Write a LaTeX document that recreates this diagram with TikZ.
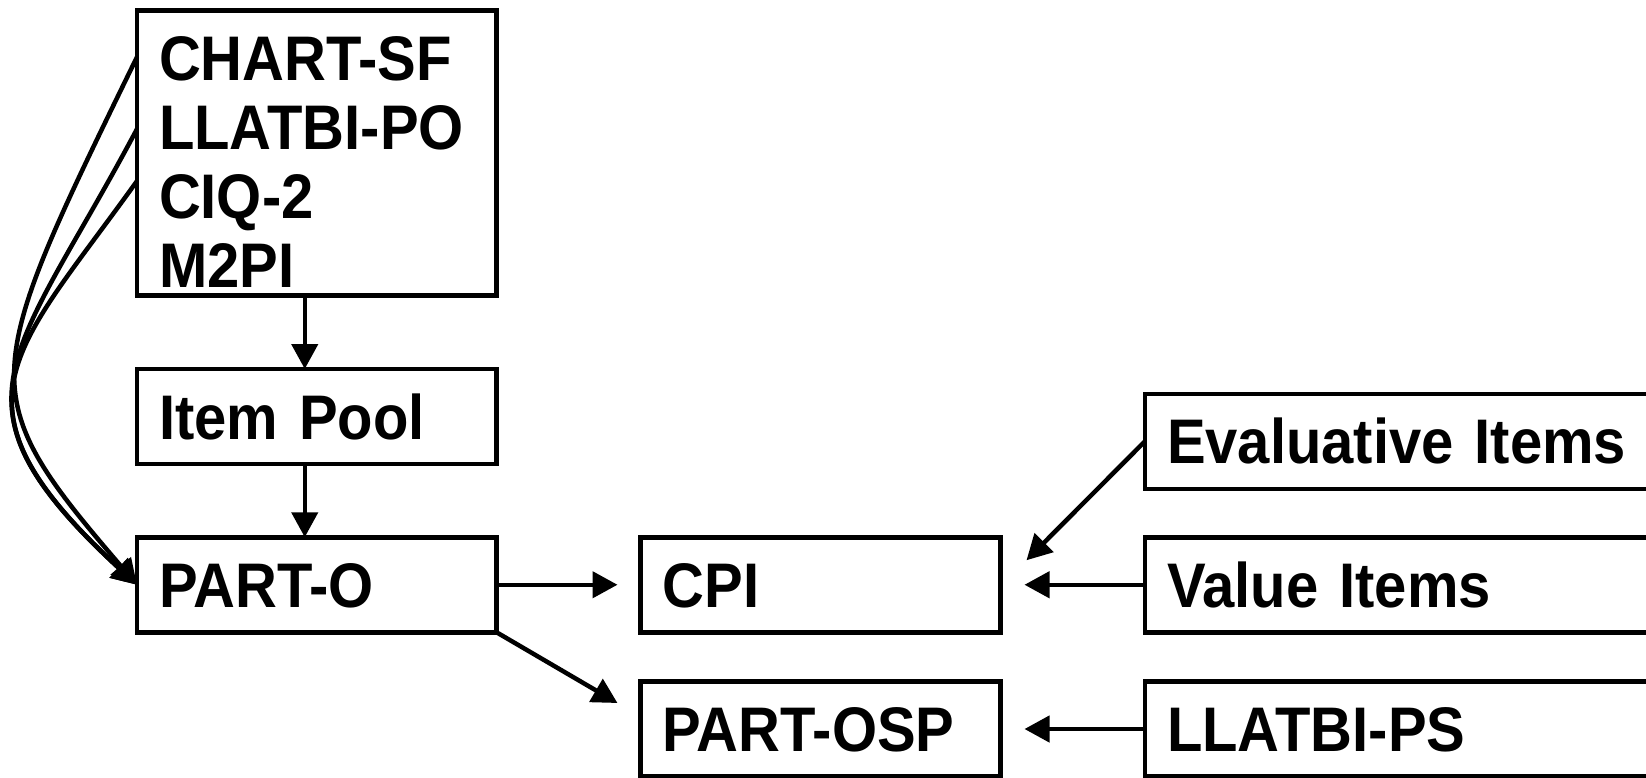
\documentclass[tikz,border=0pt]{standalone}
\usepackage{fontspec}
\setmainfont{Liberation Sans}[FakeStretch=0.92]
\usetikzlibrary{arrows.meta,positioning}

\begin{document}
\begin{tikzpicture}[x=1pt,y=-1pt,on grid,line width=4.5pt,
    >={Triangle[length=25pt,width=26pt]},
    box/.style={draw,outer sep=0pt,inner xsep=22pt,inner ysep=0pt,
      text width=#1,align=left,minimum height=95pt,
      text height=45pt,text depth=0pt,
      font=\fontsize{63}{69}\selectfont\bfseries},
    box/.default=315.5pt]
  \useasboundingbox (0,0) rectangle (1646,777);
  \clip (0,0) rectangle (1646,777);

  \node[box,minimum height=285pt,text height=61pt,text depth=207pt] (src) at (316.75,153)
    {CHART-SF\\LLATBI-PO\\CIQ-2\\M2PI};
  \node[box] (pool) [below=263.5pt of src] {Item Pool};
  \node[box] (parto) [below=168.25pt of pool] {PART-O};
  \node[box=316pt] (cpi) [right=503.75pt of parto] {CPI};
  \node[box=316pt] (osp) [below=144.25pt of cpi] {PART-OSP};
  \node[box=496pt] (val) [right=594.5pt of cpi] {Value Items};
  \node[box=496pt] (evl) [above=143.5pt of val] {Evaluative Items};
  \node[box=496pt] (llps) [below=144.25pt of val] {LLATBI-PS};

  % curve start points and free arrow ends
  \coordinate (s1) at ([yshift=-46.5pt]src.north west);
  \coordinate (s2) at ([yshift=-118.5pt]src.north west);
  \coordinate (s3) at ([yshift=-170.5pt]src.north west);
  \coordinate (evtip) at ([xshift=26pt,yshift=-23pt]cpi.north east);
  \coordinate (osptip) at ([xshift=-23pt,yshift=26pt]osp.west);

  \draw[->] (s1) .. controls (-20,379) and (-28,393) .. (parto.west);
  \draw[->] (s2) .. controls (14,361) and (-62,401) .. (parto.west);
  \draw[->] (s3) .. controls (12.5,355) and (-60,403) .. (parto.west);

  \path[->]
    ([xshift=-12pt]src.south) edge ([xshift=-12pt]pool.north)
    ([xshift=-12pt]pool.south) edge ([xshift=-12pt]parto.north)
    (parto) edge[shorten >=23pt] (cpi)
    (parto.south east) edge (osptip)
    (evl.west) edge (evtip)
    (val) edge[shorten >=24pt] (cpi)
    (llps) edge[shorten >=24pt] (osp);
\end{tikzpicture}
\end{document}
